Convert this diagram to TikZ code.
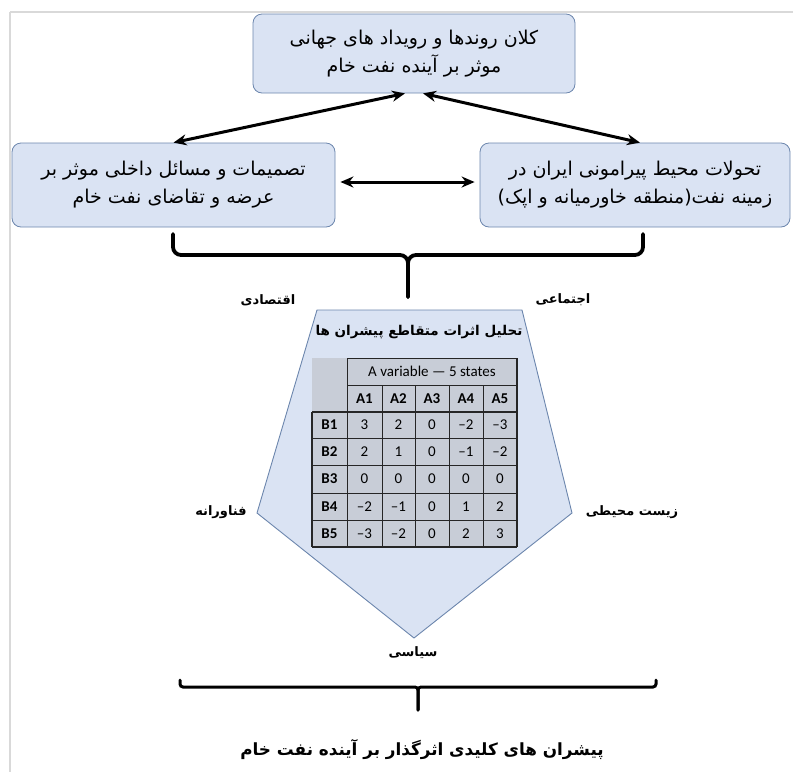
\documentclass[tikz,border=0pt]{standalone}
\usepackage{fontspec}
\usetikzlibrary{arrows.meta}
\TeXXeTstate=1
\newfontfamily\fa[Script=Arabic]{DejaVu Sans}
\newfontfamily\tabfont{Carlito}
\definecolor{boxfill}{HTML}{DAE3F3}
\definecolor{boxline}{HTML}{6C86AD}
\definecolor{cellfill}{HTML}{C8CDD7}
\definecolor{framegray}{HTML}{D9D9D9}
\tikzset{
  topic/.style={draw=boxline, fill=boxfill, rounded corners=9pt, line width=0.8pt, align=center, font=\fa\fontsize{19}{28}\selectfont, inner sep=0pt},
  link/.style={line width=3pt, {Stealth[length=13pt,width=11pt]}-{Stealth[length=13pt,width=11pt]}},
  bracket/.style={line width=3.8pt, rounded corners=8pt, line cap=round},
  dimlabel/.style={font=\fa\bfseries\fontsize{13}{16}\selectfont},
  cellt/.style={font=\tabfont\fontsize{15}{17}\selectfont},
  cellb/.style={font=\tabfont\bfseries\fontsize{15}{17}\selectfont}
}
\begin{document}
\begin{tikzpicture}[x=1pt,y=-1pt]
\useasboundingbox (0,0) rectangle (793,772);
% frame lines
\draw[framegray, line width=1.6pt] (10,12) -- (793,12);
\draw[framegray, line width=1.6pt] (10,12) -- (10,772);

% boxes
\node[topic, minimum width=322pt, minimum height=79pt] (top) at (414,53.5)
  {\beginR کلان روندها و رویداد های جهانی\endR\\ \beginR موثر بر آینده نفت خام\endR};
\node[topic, minimum width=323pt, minimum height=84pt] (left) at (173.5,185)
  {\beginR تصمیمات و مسائل داخلی موثر بر\endR\\ \beginR عرضه و تقاضای نفت خام\endR};
\node[topic, minimum width=310pt, minimum height=84pt] (right) at (635,185)
  {\beginR تحولات محیط پیرامونی ایران در\endR\\ \beginR زمینه نفت(منطقه خاورمیانه و اپک)\endR};

% arrows
\draw[link] ([xshift=-9pt]top.south) -- (left.north);
\draw[link] ([xshift=9pt]top.south) -- ([xshift=5pt]right.north);
\draw[link] ([xshift=5pt,yshift=3pt]left.east) -- ([xshift=-5pt,yshift=3pt]right.west);

% upper brace
\coordinate (b1l) at (173,234);
\coordinate (b1r) at (643,234);
\coordinate (b1m) at (408,255);
\coordinate (b1t) at (408,297);
\draw[bracket] (b1l) -- (b1l |- b1m) -- (b1m) -- (b1t);
\draw[bracket] (b1r) -- (b1r |- b1m) -- (b1m) -- (b1t);

% pentagon
\draw[draw=boxline, fill=boxfill, line width=0.9pt] (317,310) -- (522,310) -- (572,513) -- (414,638) -- (257,513) -- cycle;
\node[font=\fa\bfseries\fontsize{13.5}{15}\selectfont] (ptitle) at (419,332) {\beginR تحلیل اثرات متقاطع پیشران ها\endR};

% dimension labels
\node[dimlabel] (econ) at (268,300) {\beginR اقتصادی\endR};
\node[dimlabel] (soc) at (563,300) {\beginR اجتماعی\endR};
\node[dimlabel] (tech) at (221,512) {\beginR فناورانه\endR};
\node[dimlabel] (env) at (632,512) {\beginR زیست محیطی\endR};
\node[dimlabel] (pol) at (413,653) {\beginR سیاسی\endR};

% table
\def\cx{{312,347,382,415,449,483,517}}
\def\ry{{358,385,412,438,465,493,520,547}}
\fill[cellfill] (312,358) rectangle (517,547);
% grid lines
\foreach \y in {412,438,465,493,520,547} \draw[line width=1pt, black!85] (312,\y) -- (517,\y);
\draw[line width=1pt, black!85] (347,358) -- (517,358);
\draw[line width=1pt, black!85] (347,385) -- (517,385);
\draw[line width=1.2pt, black!85] (312,412) -- (517,412);
\draw[line width=1.4pt, black!85] (312,412) -- (312,547);
\draw[line width=1pt, black!85] (347,358) -- (347,547);
\foreach \x in {382,415,449,483} \draw[line width=1pt, black!85] (\x,385) -- (\x,547);
\draw[line width=1.4pt, black!85] (517,358) -- (517,547);
\draw[line width=1.4pt, black!85] (312,547) -- (517,547);
\node[cellt] (thead) at (432,371.5) {A variable — 5 states};
\foreach \n [count=\i] in {A1,A2,A3,A4,A5} {
  \pgfmathsetmacro\xa{\cx[\i]}\pgfmathsetmacro\xb{\cx[\i+1]}
  \node[cellb] (colh\i) at ({(\xa+\xb)/2},398.5) {\n};
}
\foreach \row [count=\j] in {{3,2,0,–2,–3},{2,1,0,–1,–2},{0,0,0,0,0},{–2,–1,0,1,2},{–3,–2,0,2,3}} {
  \pgfmathsetmacro\ya{\ry[\j+1]}\pgfmathsetmacro\yb{\ry[\j+2]}
  \node[cellb] (rowh\j) at (329.5,{(\ya+\yb)/2}) {B\j};
  \foreach \v [count=\i] in \row {
    \pgfmathsetmacro\xa{\cx[\i]}\pgfmathsetmacro\xb{\cx[\i+1]}
    \node[cellt] (c\j\i) at ({(\xa+\xb)/2},{(\ya+\yb)/2}) {\v};
  }
}

% lower brace
\coordinate (b2l) at (180,680);
\coordinate (b2r) at (656,680);
\coordinate (b2m) at (418,687);
\coordinate (b2t) at (418,710);
\draw[bracket, line width=3pt, rounded corners=3pt] (b2l) -- (b2l |- b2m) -- (b2m) -- (b2t);
\draw[bracket, line width=3pt, rounded corners=3pt] (b2r) -- (b2r |- b2m) -- (b2m) -- (b2t);

\node[font=\fa\bfseries\fontsize{16.8}{20}\selectfont] (result) at (422,750) {\beginR پیشران های کلیدی اثرگذار بر آینده نفت خام\endR};
\end{tikzpicture}
\end{document}
